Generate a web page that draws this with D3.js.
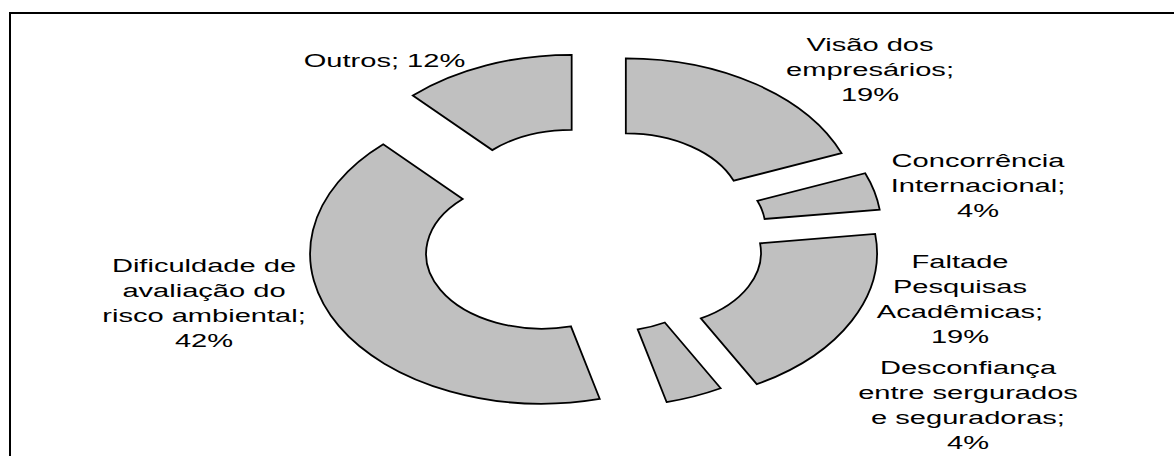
<!DOCTYPE html>
<html>
<head>
<meta charset="utf-8">
<script src="https://cdn.jsdelivr.net/npm/d3@7"></script>
<style>
  html, body { margin: 0; padding: 0; background: #fff; }
  svg { display: block; }
  text { font-family: "Liberation Sans", Arial, sans-serif; fill: #000; }
</style>
</head>
<body>
<svg id="chart" width="1174" height="456"></svg>
<script>
// ---- data ----
const categories = [
  "Visão dos empresários",
  "Concorrência Internacional",
  "Faltade Pesquisas Acadêmicas",
  "Desconfiança entre sergurados e seguradoras",
  "Dificuldade de avaliação do risco ambiental",
  "Outros"
];
const values = [19, 4, 19, 4, 42, 12];
const labelLines = [
  ["Visão dos", "empresários;"],
  ["Concorrência", "Internacional;"],
  ["Faltade", "Pesquisas", "Acadêmicas;"],
  ["Desconfiança", "entre sergurados", "e seguradoras;"],
  ["Dificuldade de", "avaliação do", "risco ambiental;"],
  ["Outros;"]
];

// ---- layout ----
const W = 1174, H = 456;
const cx = 593.1, cy = 237;          // donut centre
const rx = 232, ry = 150;            // outer radii (chart is stretched horizontally)
const holeRatio = 0.5;
// explosion (fraction of radius) per slice, horizontal / vertical
const explodeX = [0.251, 0.251, 0.251, 0.185, 0.251, 0.251];
const explodeY = [0.231, 0.231, 0.231, 0.142, 0.231, 0.231];
const textStretch = 1.53;
const fontSize = 19;
const lineGap = 25;
const labelAnchor = [
  [870, 51], [978, 167], [960, 268], [968, 374], [204, 272], [384.5, 67]
];

const svg = d3.select("#chart");

// frame
svg.append("path")
  .attr("d", `M10,${H + 2} V13 H${W + 2}`)
  .attr("fill", "none")
  .attr("stroke", "#000")
  .attr("stroke-width", 2);

const pie = d3.pie().sort(null).value(d => d);
const arcs = pie(values);
const R = 100;
const arc = d3.arc().innerRadius(R * holeRatio).outerRadius(R);

const g = svg.append("g");
g.selectAll("path.slice")
  .data(arcs)
  .join("path")
  .attr("class", "slice")
  .attr("d", arc)
  .attr("transform", (d, i) => {
    const m = (d.startAngle + d.endAngle) / 2;
    const ox = cx + rx * explodeX[i] * Math.sin(m);
    const oy = cy - ry * explodeY[i] * Math.cos(m);
    return `translate(${ox},${oy}) scale(${rx / R},${ry / R})`;
  })
  .attr("fill", "#C0C0C0")
  .attr("stroke", "#000")
  .attr("stroke-width", 1.8)
  .attr("vector-effect", "non-scaling-stroke")
  .attr("stroke-linejoin", "miter");

// labels
const labels = svg.append("g");
arcs.forEach((d, i) => {
  const lines = labelLines[i].slice();
  const pct = `${values[i]}%`;
  if (lines.length === 1) lines[0] = lines[0] + " " + pct;
  else lines.push(pct);
  const [x, y] = labelAnchor[i];
  const t = labels.append("text")
    .attr("transform", `translate(${x},${y}) scale(${textStretch},1)`)
    .attr("text-anchor", "middle")
    .attr("font-size", fontSize);
  lines.forEach((ln, j) => {
    t.append("tspan").attr("x", 0).attr("y", j * lineGap).text(ln);
  });
});
</script>
</body>
</html>
